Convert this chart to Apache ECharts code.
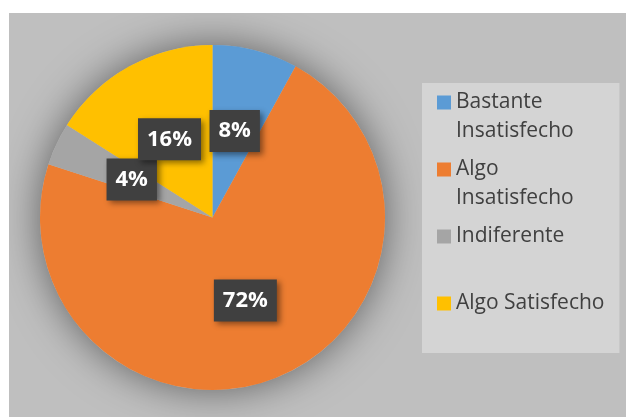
<!DOCTYPE html>
<html>
<head>
<meta charset="utf-8">
<script src="https://cdn.jsdelivr.net/npm/echarts@6/dist/echarts.min.js"></script>
<style>
  html, body { margin: 0; padding: 0; background: #ffffff; width: 626px; height: 417px; overflow: hidden; }
  #main { position: absolute; left: 9px; top: 13px; width: 617px; height: 404px; background: #bfbfbf; }
</style>
</head>
<body>
<div id="main"></div>
<script>
const categories = ['Bastante Insatisfecho', 'Algo Insatisfecho', 'Indiferente', 'Algo Satisfecho'];
const values = [8, 72, 4, 16];
const colors = ['#5b9bd5', '#ed7d31', '#a5a5a5', '#ffc000'];

const chart = echarts.init(document.getElementById('main'), null, { renderer: 'canvas' });

const pieCenter = [203.5, 204.5];
const pieRadius = 172.5;

const option = {
  animation: false,
  backgroundColor: 'transparent',
  legend: {
    orient: 'vertical',
    left: 413,
    top: 70,
    backgroundColor: '#d4d4d4',
    padding: [5, 15, 6, 15],
    itemGap: 9,
    itemWidth: 14,
    itemHeight: 43,
    icon: 'path://M0,0h14v14h-14zM0,43h0.01',
    itemStyle: { borderWidth: 0 },
    selectedMode: false,
    formatter: function (name) {
      if (name.indexOf(' Insatisfecho') >= 0) {
        return name.replace(' Insatisfecho', '\nInsatisfecho');
      }
      return name + '\n';
    },
    textStyle: {
      fontFamily: 'Open Sans',
      fontSize: 21,
      lineHeight: 29,
      color: '#404040'
    },
    data: categories
  },
  series: [
    {
      type: 'pie',
      silent: true,
      center: pieCenter,
      radius: pieRadius,
      label: { show: false },
      labelLine: { show: false },
      emphasis: { disabled: true },
      itemStyle: {
        color: '#bfbfbf',
        borderWidth: 0,
        shadowBlur: 40,
        shadowColor: 'rgba(0,0,0,0.5)'
      },
      data: [{ value: 1, name: '' }]
    },
    {
      type: 'pie',
      center: pieCenter,
      radius: pieRadius,
      startAngle: 90,
      clockwise: true,
      avoidLabelOverlap: false,
      labelLayout: { hideOverlap: false },
      emphasis: { disabled: true },
      itemStyle: { borderWidth: 0 },
      labelLine: { show: false },
      label: {
        show: true,
        position: 'inside',
        formatter: '{c}%',
        fontFamily: 'Open Sans',
        fontWeight: 'bold',
        fontSize: 22,
        lineHeight: 26,
        color: '#ffffff',
        backgroundColor: '#404040',
        padding: [8, 9],
        shadowBlur: 6,
        shadowOffsetX: 3,
        shadowOffsetY: 3,
        shadowColor: 'rgba(0,0,0,0.45)'
      },
      data: categories.map(function (c, i) {
        return { name: c, value: values[i], itemStyle: { color: colors[i] } };
      })
    }
  ]
};

chart.setOption(option);
</script>
</body>
</html>
